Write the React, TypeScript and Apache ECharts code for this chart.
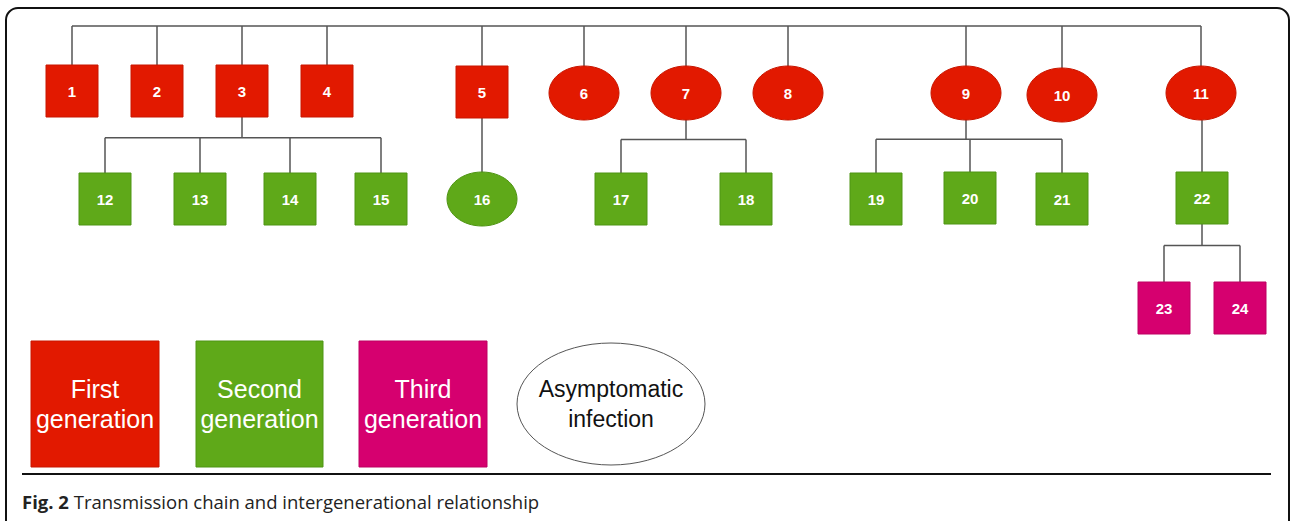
import React, { useEffect, useRef } from "react";
import * as echarts from "echarts";

// ---- Data ----
const caseIds = ["1","2","3","4","5","6","7","8","9","10","11","12","13","14","15","16","17","18","19","20","21","22","23","24"];
const generation = [1,1,1,1,1,1,1,1,1,1,1,2,2,2,2,2,2,2,2,2,2,2,3,3];
const asymptomatic = [false,false,false,false,false,true,true,true,true,true,true,false,false,false,false,true,false,false,false,false,false,false,false,false];
const parentOf: (string | null)[] = [null,null,null,null,null,null,null,null,null,null,null,"3","3","3","3","5","7","7","9","9","9","11","22","22"];

const genColors = ["#e21900", "#5fa919", "#d6006f"];
const genBorder = ["#c81600", "#4f9514", "#bd0062"];
const legendLabels = ["First\ngeneration", "Second\ngeneration", "Third\ngeneration", "Asymptomatic\ninfection"];
const captionBold = "Fig. 2";
const captionText = "Transmission chain and intergenerational relationship";

// ---- Layout (diagram placement, pixel-like units on hidden axes) ----
const layoutX = [72,157,242,327,482,584,686,788,966,1062,1201,105,200,290,381,482,621,746,876,970,1062,1202,1164,1240];
const layoutY = [91,91,91,91,92,93,93,93,93,95,93,199,199,199,199,199,199,199,199,198,199,198,308,308];
const rootBusY = 26;
const SQ = 52;
const ELW = 70;
const ELH = 54;

function nodeHalfH(i: number) {
  return asymptomatic[i] ? ELH / 2 : SQ / 2;
}

function buildSegments(): number[][] {
  const segs: number[][] = [];
  const roots = caseIds.map((_, i) => i).filter((i) => parentOf[i] === null);
  const rx = roots.map((i) => layoutX[i]);
  segs.push([Math.min(...rx), rootBusY, Math.max(...rx), rootBusY]);
  roots.forEach((i) => segs.push([layoutX[i], rootBusY, layoutX[i], layoutY[i] - nodeHalfH(i)]));
  caseIds.forEach((pid, p) => {
    const kids = caseIds.map((_, i) => i).filter((i) => parentOf[i] === pid);
    if (!kids.length) return;
    const pBottom = layoutY[p] + nodeHalfH(p);
    if (kids.length === 1) {
      const k = kids[0];
      segs.push([layoutX[k], pBottom, layoutX[k], layoutY[k] - nodeHalfH(k)]);
      return;
    }
    const kTop = Math.min(...kids.map((k) => layoutY[k] - nodeHalfH(k)));
    const busY = pBottom + 0.37 * (kTop - pBottom);
    segs.push([layoutX[p], pBottom, layoutX[p], busY]);
    const kx = kids.map((k) => layoutX[k]);
    segs.push([Math.min(...kx), busY, Math.max(...kx), busY]);
    kids.forEach((k) => segs.push([layoutX[k], busY, layoutX[k], layoutY[k] - nodeHalfH(k)]));
  });
  return segs;
}

export default function App() {
  const ref = useRef<HTMLDivElement>(null);
  useEffect(() => {
    document.body.style.margin = "0";
    const chart = echarts.init(ref.current!, null, { renderer: "svg" });
    const segments = buildSegments();
    const nodeData = caseIds.map((_, i) => [layoutX[i], layoutY[i]]);

    const legendBoxes = [
      { x: 31, w: 128 },
      { x: 196, w: 127 },
      { x: 359, w: 128 },
    ];
    const legendGraphics: any[] = [];
    legendBoxes.forEach((b, i) => {
      legendGraphics.push({
        type: "rect",
        shape: { x: b.x, y: 341, width: b.w, height: 126 },
        style: { fill: genColors[i], stroke: genBorder[i], lineWidth: 1 },
      });
      legendGraphics.push({
        type: "text",
        style: {
          text: legendLabels[i],
          x: b.x + b.w / 2,
          y: 404,
          align: "center",
          verticalAlign: "middle",
          fill: "#ffffff",
          fontSize: 25,
          fontFamily: "Liberation Sans, Arial, sans-serif",
          lineHeight: 30,
        },
      });
    });
    legendGraphics.push({
      type: "ellipse",
      shape: { cx: 611, cy: 404, rx: 94, ry: 61 },
      style: { fill: "#ffffff", stroke: "#555555", lineWidth: 1 },
    });
    legendGraphics.push({
      type: "text",
      style: {
        text: legendLabels[3],
        x: 611,
        y: 404,
        align: "center",
        verticalAlign: "middle",
        fill: "#111111",
        fontSize: 23,
        fontFamily: "Liberation Sans, Arial, sans-serif",
        lineHeight: 30,
      },
    });

    chart.setOption({
      animation: false,
      grid: { left: 0, right: 0, top: 0, bottom: 0 },
      xAxis: { type: "value", min: 0, max: 1292, show: false },
      yAxis: { type: "value", min: 0, max: 521, inverse: true, show: false },
      title: {
        text: `{b|${captionBold}} ${captionText}`,
        left: 17,
        top: 487,
        textStyle: {
          fontSize: 18.5,
          fontWeight: "normal",
          fontFamily: "Open Sans, sans-serif",
          color: "#222222",
          rich: {
            b: { fontSize: 18.5, fontWeight: "bold", fontFamily: "Open Sans, sans-serif", color: "#222222" },
          },
        },
      },
      graphic: [
        {
          type: "rect",
          shape: { x: 6, y: 8, width: 1283, height: 560, r: 12 },
          style: { fill: "none", stroke: "#111111", lineWidth: 2 },
          z: 0,
        },
        {
          type: "line",
          shape: { x1: 22, y1: 474, x2: 1271, y2: 474 },
          style: { stroke: "#111111", lineWidth: 2 },
        },
        ...legendGraphics,
      ],
      series: [
        {
          type: "custom",
          data: segments,
          z: 1,
          renderItem: (params: any, api: any) => {
            const p1 = api.coord([api.value(0), api.value(1)]);
            const p2 = api.coord([api.value(2), api.value(3)]);
            return {
              type: "line",
              shape: { x1: p1[0], y1: p1[1], x2: p2[0], y2: p2[1] },
              style: { stroke: "#555555", lineWidth: 1.5 },
            };
          },
        },
        {
          type: "custom",
          data: nodeData,
          z: 2,
          renderItem: (params: any, api: any) => {
            const i = params.dataIndex;
            const [cx, cy] = api.coord([api.value(0), api.value(1)]);
            const g = generation[i] - 1;
            const shapeEl = asymptomatic[i]
              ? {
                  type: "ellipse",
                  shape: { cx, cy, rx: ELW / 2, ry: ELH / 2 },
                  style: { fill: genColors[g], stroke: genBorder[g], lineWidth: 1 },
                }
              : {
                  type: "rect",
                  shape: { x: cx - SQ / 2, y: cy - SQ / 2, width: SQ, height: SQ },
                  style: { fill: genColors[g], stroke: genBorder[g], lineWidth: 1 },
                };
            return {
              type: "group",
              children: [
                shapeEl,
                {
                  type: "text",
                  style: {
                    text: caseIds[i],
                    x: cx,
                    y: cy,
                    align: "center",
                    verticalAlign: "middle",
                    fill: "#ffffff",
                    fontSize: 15,
                    fontWeight: "bold",
                    fontFamily: "Liberation Sans, Arial, sans-serif",
                  },
                },
              ],
            };
          },
        },
      ],
    });
    return () => chart.dispose();
  }, []);
  return <div ref={ref} style={{ width: 1292, height: 521 }} />;
}
